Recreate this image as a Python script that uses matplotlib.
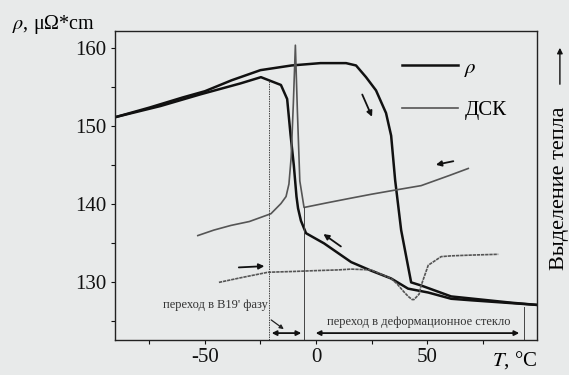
import matplotlib
matplotlib.use("Agg")
import matplotlib.pyplot as plt
import numpy as np

# resistivity, heating branch
heat_T = [-90, -75, -60, -50, -38, -25, -11, 2, 13.5, 18, 22.5, 27, 31.5, 33.8,
          35.6, 38.3, 42.8, 47.3, 60.8, 74.3, 87.8, 100]
heat_rho = [151.2, 152.4, 153.7, 154.5, 155.9, 157.2, 157.8, 158.1, 158.1, 157.8,
            156.3, 154.6, 151.7, 148.8, 143.1, 136.7, 130.0, 129.6, 128.2, 127.8,
            127.4, 127.1]

# resistivity, cooling branch (right to left)
cool_T = [100, 85, 70, 60.8, 50.5, 41.4, 33.8, 24.8, 15.8, 3.6, -4.5, -6.8, -8.1,
          -8.8, -10, -11.5, -13, -15.8, -20.3, -24.8, -34, -52, -70, -90]
cool_rho = [127.1, 127.4, 127.7, 127.9, 128.7, 129.2, 130.5, 131.5, 132.6, 135.0,
            136.3, 137.9, 139.5, 141.0, 145.0, 149.0, 153.5, 155.3, 155.8, 156.3,
            155.5, 154.1, 152.6, 151.2]

# DSC, cooling run
dsc_cool_T = [68.5, 60, 47.3, 35, 25, 15.8, 5, -5.4, -7.3, -8.4, -9.3, -10.2,
              -11.2, -12.2, -13.5, -15.8, -20.3, -30, -38.3, -46, -53.2]
dsc_cool = [144.6, 143.7, 142.4, 141.8, 141.3, 140.8, 140.2, 139.6, 143.0, 152.0,
            160.4, 153.0, 146.0, 142.6, 141.0, 140.1, 138.8, 137.8, 137.3, 136.7,
            136.0]

# DSC, heating run
dsc_heat_T = [-43.7, -33.8, -21.6, -10, -0.9, 10, 15.8, 24.8, 33.8, 36.5, 39.5,
              41.5, 43.2, 44.1, 46.4, 47.3, 50.5, 56.3, 60.8, 70, 82]
dsc_heat = [130.0, 130.6, 131.3, 131.4, 131.5, 131.6, 131.7, 131.6, 130.5, 129.8,
            128.8, 128.2, 127.8, 127.8, 128.5, 129.6, 132.2, 133.3, 133.4, 133.5,
            133.6]

b19_T = -21.2      # переход в B19'
glass_T = -5.4     # переход в деформационное стекло
glass_end = 93.7

plt.rcParams['font.family'] = ['Liberation Serif', 'DejaVu Serif']
plt.rcParams['mathtext.fontset'] = 'stix'
plt.rcParams['axes.unicode_minus'] = False

bg = '#e8eaea'
fig = plt.figure(figsize=(5.69, 3.75), dpi=100, facecolor=bg)
ax = fig.add_axes([0.202, 0.093, 0.742, 0.824], facecolor=bg)

ax.plot(heat_T, heat_rho, color='#111111', lw=1.8, label=r'$\rho$')
ax.plot(cool_T, cool_rho, color='#111111', lw=1.8)
ax.plot(dsc_cool_T, dsc_cool, color='#555555', lw=1.2, label='ДСК')
ax.plot(dsc_heat_T, dsc_heat, color='#555555', lw=1.2, ls=(0, (2, 0.5)))

# transition markers
ax.plot([b19_T, b19_T], [122.6, 156.0], color='#444444', lw=0.7, ls=(0, (1.5, 1)))
ax.plot([glass_T, glass_T], [122.6, 139.6], color='#444444', lw=0.7)
ax.plot([glass_end, glass_end], [122.6, 126.8], color='#444444', lw=0.7)
ax.annotate('', xy=(glass_T, 123.5), xytext=(b19_T, 123.5),
            arrowprops=dict(arrowstyle='<|-|>', color='#111111', lw=1.3,
                            mutation_scale=7))
ax.annotate('', xy=(glass_end - 1, 123.5), xytext=(-1.4, 123.5),
            arrowprops=dict(arrowstyle='<|-|>', color='#111111', lw=1.3,
                            mutation_scale=7))
ax.annotate('', xy=(-13.5, 123.8), xytext=(b19_T, 125.4),
            arrowprops=dict(arrowstyle='-|>', color='#222222', lw=0.9,
                            mutation_scale=6))
ax.text(b19_T - 0.5, 127.1, "переход в B19' фазу", fontsize=9,
        ha='right', va='center', color='#333333')
ax.text(46.4, 124.9, 'переход в деформационное стекло', fontsize=9,
        ha='center', va='center', color='#333333')

# direction arrows
arr = dict(arrowstyle='-|>', color='#111111', lw=1.3, mutation_scale=8)
ax.annotate('', xy=(25.7, 150.9), xytext=(20.3, 154.4), arrowprops=arr)
ax.annotate('', xy=(2.3, 136.4), xytext=(12.2, 134.4), arrowprops=arr)
ax.annotate('', xy=(52.7, 145.0), xytext=(63.0, 145.6), arrowprops=arr)
ax.annotate('', xy=(-22.0, 132.1), xytext=(-36.0, 131.9), arrowprops=arr)

ax.set_xlim(-90.5, 99.5)
ax.set_ylim(122.6, 162.2)
ax.set_xticks([-50, 0, 50])
ax.set_xticks([-75, -25, 25, 75], minor=True)
ax.set_yticks([130, 140, 150, 160])
ax.set_yticks([125, 135, 145, 155], minor=True)
ax.tick_params(which='both', direction='out', length=3, width=0.8,
               labelsize=15, pad=3, colors='#111111')
for s in ax.spines.values():
    s.set_linewidth(1.0)
    s.set_color('#222222')

ax.legend(loc='upper left', bbox_to_anchor=(0.7065, 0.845),
          bbox_transform=fig.transFigure, frameon=False, fontsize=15,
          handlelength=2.7, handletextpad=0.3, labelspacing=1.05,
          borderpad=0, borderaxespad=0)

fig.text(0.021, 0.936, r'$\rho$, μΩ*cm', fontsize=14.5, ha='left', va='center')
fig.text(0.944, 0.04, r'$T$, °C', fontsize=15, ha='right', va='center')
fig.text(0.984, 0.497, 'Выделение тепла', fontsize=16, rotation=90,
         ha='center', va='center')
fig.patches.append(matplotlib.patches.FancyArrowPatch(
    (0.984, 0.768), (0.984, 0.88), transform=fig.transFigure,
    arrowstyle='-|>', mutation_scale=8, color='#111111', lw=1.0))

fig.savefig('out.png', dpi=100, facecolor=bg)
